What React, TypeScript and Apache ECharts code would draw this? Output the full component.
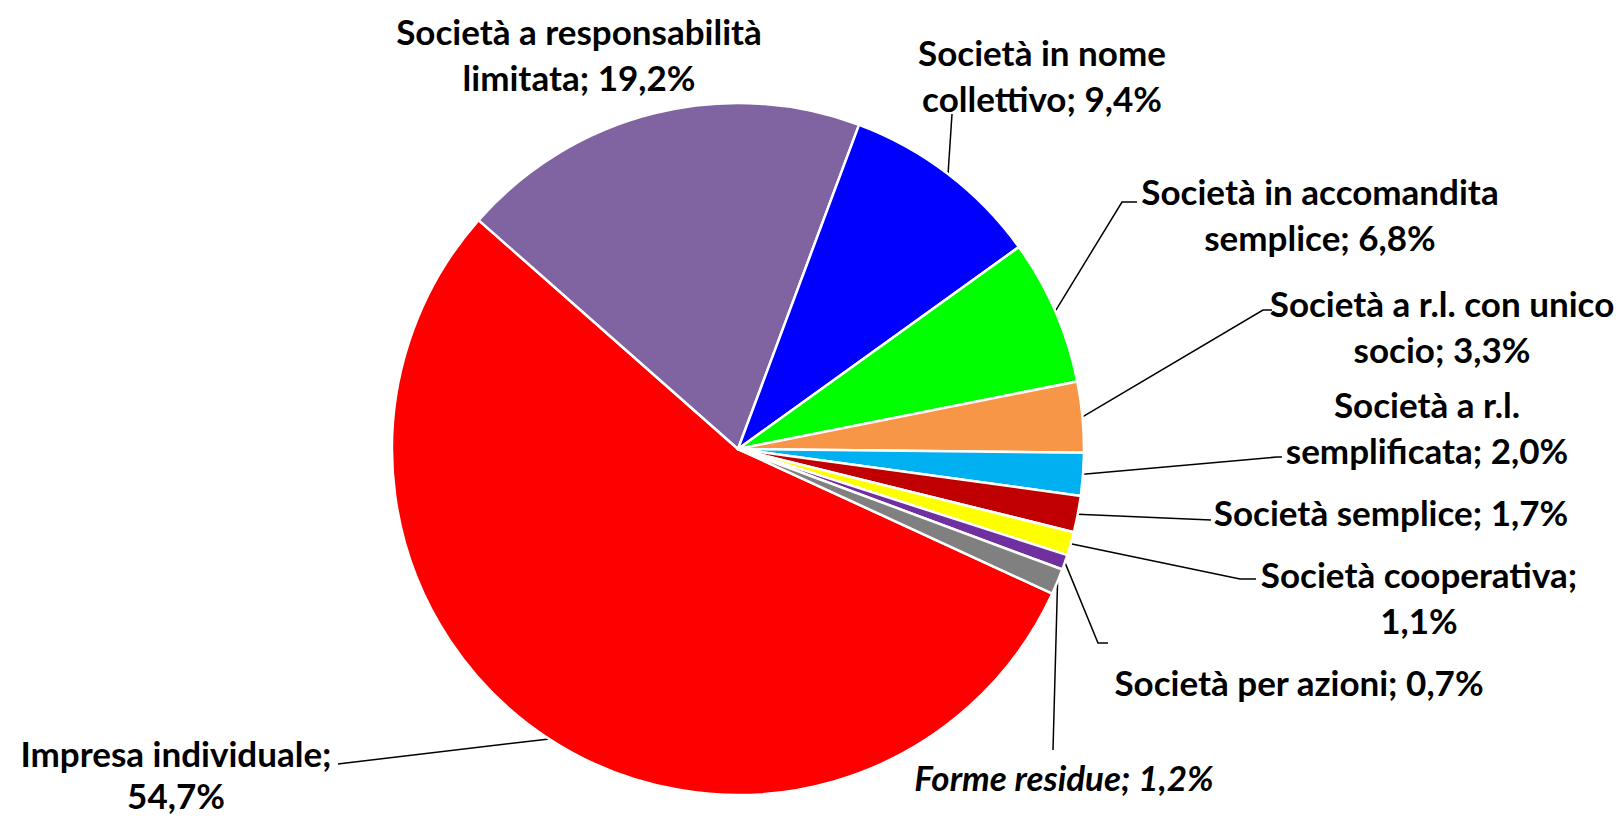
import React, { useEffect, useRef } from "react";
import * as echarts from "echarts";

const categories = [
  "Impresa individuale",
  "Società a responsabilità limitata",
  "Società in nome collettivo",
  "Società in accomandita semplice",
  "Società a r.l. con unico socio",
  "Società a r.l. semplificata",
  "Società semplice",
  "Società cooperativa",
  "Società per azioni",
  "Forme residue",
];
const values = [54.7, 19.2, 9.4, 6.8, 3.3, 2.0, 1.7, 1.1, 0.7, 1.2];
const labelTemplates = [
  "Impresa individuale;\n{v}",
  "Società a responsabilità\nlimitata; {v}",
  "Società in nome\ncollettivo; {v}",
  "Società in accomandita\nsemplice; {v}",
  "Società a r.l. con unico\nsocio; {v}",
  "Società a r.l.\nsemplificata; {v}",
  "Società semplice; {v}",
  "Società cooperativa;\n{v}",
  "Società per azioni; {v}",
  "Forme residue; {v}",
];
const colors = [
  "#FF0000",
  "#8064A2",
  "#0000FF",
  "#00FF00",
  "#F79646",
  "#00B0F0",
  "#C00000",
  "#FFFF00",
  "#7030A0",
  "#808080",
];

// label anchor (center of text block) and leader line points after the slice edge
const labelPos: [number, number][] = [
  [176, 774],
  [579, 54],
  [1042, 75],
  [1320, 214],
  [1442, 326],
  [1427, 427],
  [1391, 512],
  [1419, 597],
  [1299, 682],
  [1064, 777],
];
const leaderPts: ([number, number][] | null)[] = [
  [[346, 763], [338, 764]],
  null,
  [[952, 114]],
  [[1122, 202], [1137, 202]],
  [[1263, 310], [1272, 310]],
  [[1277, 457], [1282, 457]],
  [[1211, 520]],
  [[1240, 579], [1256, 579]],
  [[1098, 643], [1108, 643]],
  [[1053, 750]],
];

const fmt = (v: number) => v.toFixed(1).replace(".", ",") + "%";

export default function App() {
  const ref = useRef<HTMLDivElement>(null);
  useEffect(() => {
    document.body.style.margin = "0";
    const chart = echarts.init(ref.current!, null, { renderer: "svg" });
    const data = categories.map((name, i) => ({
      name,
      value: values[i],
      itemStyle: { color: colors[i] },
      label: {
        formatter: labelTemplates[i].replace("{v}", fmt(values[i])),
        fontStyle: i === 9 ? "italic" : "normal",
        lineHeight: i === 0 ? 42 : 46,
      },
      labelLine: { show: leaderPts[i] !== null },
    }));
    chart.setOption({
      animation: false,
      backgroundColor: "#ffffff",
      series: [
        {
          type: "pie",
          center: [738, 449],
          radius: 346,
          startAngle: 335.3,
          clockwise: true,
          avoidLabelOverlap: false,
          data,
          itemStyle: { borderColor: "#ffffff", borderWidth: 2.5 },
          label: {
            show: true,
            position: "outside",
            color: "#000000",
            fontFamily: "Lato, 'Open Sans', sans-serif",
            fontWeight: "bold",
            fontSize: 35,
            lineHeight: 46,
            align: "center",
          },
          labelLine: {
            show: true,
            length: 10,
            length2: 10,
            smooth: false,
            lineStyle: { color: "#000000", width: 1.5 },
          },
          labelLayout: (params: any) => {
            const i = params.dataIndex;
            const [x, y] = labelPos[i];
            const res: any = { x, y, align: "center", verticalAlign: "middle" };
            const pts = leaderPts[i];
            if (pts && params.labelLinePoints) {
              res.labelLinePoints = [params.labelLinePoints[0], ...pts];
            }
            return res;
          },
        },
      ],
    });
    return () => chart.dispose();
  }, []);
  return (
    <div
      ref={ref}
      style={{ position: "absolute", left: 0, top: 0, width: 1621, height: 817 }}
    />
  );
}
